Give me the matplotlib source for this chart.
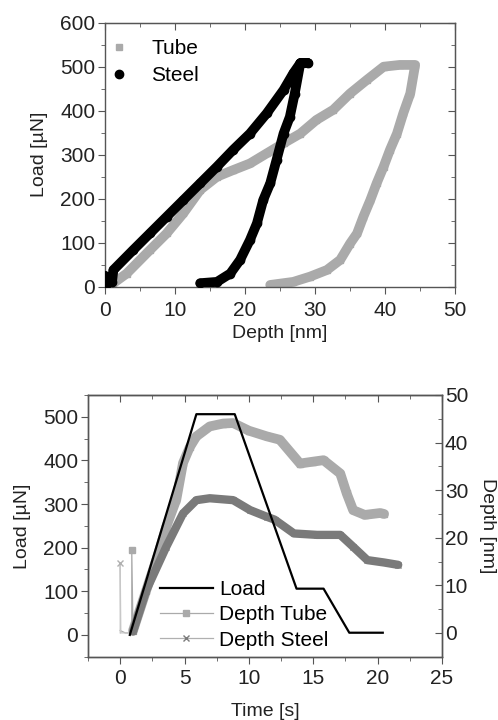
import matplotlib
matplotlib.use("Agg")
import matplotlib.pyplot as plt
from matplotlib.lines import Line2D
from matplotlib.ticker import MultipleLocator

plt.rcParams['font.family'] = ['Liberation Sans', 'DejaVu Sans']

# ---------------- top panel data: load vs depth ----------------
tube_depth = [1.2, 3.1, 6.4, 8.8, 11.2, 13.6, 16.0, 18.3, 20.7, 23.1, 25.5, 27.9, 30.2, 32.6,
              35.0, 37.4, 39.8, 42.1, 44.3,
              43.6, 42.6, 41.7, 40.7, 39.8, 38.8, 37.9, 36.9, 36.0, 35.0, 33.6, 31.7, 29.3,
              26.9, 23.6]
tube_load = [8, 30, 83, 121, 167, 220, 250, 265, 280, 303, 326, 348, 379, 402,
             439, 470, 500, 504, 504,
             439, 394, 348, 311, 273, 235, 197, 159, 121, 98, 61, 38, 23,
             11, 4]

steel_depth = [0.0, 0.2, 1.0, 1.2, 4.0, 6.4, 8.8, 11.2, 13.6, 16.0, 18.3, 20.7, 23.1, 25.5,
               26.9, 27.9, 29.0,
               27.9, 27.1, 26.4, 25.5, 24.5, 23.6, 22.6, 21.7, 20.7, 19.3, 17.9, 16.0, 13.6]
steel_load = [25, 5, 10, 38, 83, 121, 159, 197, 235, 273, 311, 348, 394, 447,
              485, 508, 508,
              508, 439, 386, 348, 288, 235, 197, 144, 106, 61, 30, 11, 8]

# ---------------- bottom panel data: vs time ----------------
load_t = [0.75, 5.92, 8.9, 13.7, 15.8, 17.8, 20.4]
load_v = [0, 506, 506, 106, 106, 5, 5]

tube_spike_t = [0.0, 0.4, 0.9, 0.9, 1.0]
tube_spike_d = [0.5, 0.0, 0.0, 17.4, 0.0]
tube_t = [1.0, 2.02, 3.0, 3.58, 4.36, 4.88, 5.4, 5.92, 6.96, 8.0, 8.78, 10.0, 11.4, 12.4,
          13.97, 15.0, 15.8, 17.1, 17.6, 18.1, 19.0, 20.2, 20.5]
tube_d = [0.5, 8.9, 17.0, 22.3, 28.0, 35.7, 39.0, 41.3, 43.4, 44.0, 44.1, 42.5, 41.3, 40.6,
          35.6, 36.0, 36.3, 33.5, 29.3, 25.8, 24.8, 25.2, 25.0]

steel_spike_t = [0.0, 0.0, 0.05, 0.5, 1.0]
steel_spike_d = [0.0, 14.6, 0.0, 0.0, 0.0]
steel_t = [1.0, 2.02, 3.58, 4.88, 5.92, 6.96, 8.78, 10.1, 11.4, 12.0, 13.5, 15.3, 17.1, 18.1,
           19.2, 20.5, 21.6]
steel_d = [0.3, 8.9, 18.1, 25.1, 27.9, 28.3, 27.9, 25.8, 24.4, 23.8, 20.9, 20.6, 20.6, 18.1,
           15.3, 14.8, 14.3]

TUBE_GRAY = '#aaaaaa'
STEEL_GRAY = '#7a7a7a'
AX_GRAY = '#555555'
TXT = '#222222'
TICK_FS = 15
LABEL_FS = 14

fig = plt.figure(figsize=(4.98, 7.2), dpi=100)

def style_axis(ax):
    for s in ax.spines.values():
        s.set_color(AX_GRAY)
        s.set_linewidth(1.0)
    ax.tick_params(which='both', colors=AX_GRAY, labelcolor=TXT, labelsize=TICK_FS, pad=2)
    ax.tick_params(which='major', length=5)
    ax.tick_params(which='minor', length=3)

def mirror(ax, axis, minor):
    sec = ax.secondary_xaxis('top') if axis == 'x' else ax.secondary_yaxis('right')
    sec.tick_params(which='both', direction='in', colors=AX_GRAY,
                    labeltop=False, labelright=False)
    sec.tick_params(which='major', length=5)
    sec.tick_params(which='minor', length=3)
    if axis == 'x':
        sec.xaxis.set_minor_locator(MultipleLocator(minor))
    else:
        sec.yaxis.set_minor_locator(MultipleLocator(minor))
    for s in sec.spines.values():
        s.set_color(AX_GRAY)
    return sec

# ---------------- top panel ----------------
ax1 = fig.add_axes([0.2108, 0.6018, 0.703, 0.3667])
ax1.plot(tube_depth, tube_load, color=TUBE_GRAY, lw=7, solid_joinstyle='round',
         solid_capstyle='round', zorder=2)
ax1.plot(tube_depth, tube_load, color=TUBE_GRAY, ls='none', marker='s', ms=5, zorder=2)
ax1.plot(steel_depth, steel_load, color='black', lw=7, solid_joinstyle='round',
         solid_capstyle='round', zorder=3)
ax1.plot(steel_depth, steel_load, color='black', ls='none', marker='o', ms=6, zorder=3)
ax1.set_xlim(0, 50)
ax1.set_ylim(0, 600)
ax1.xaxis.set_major_locator(MultipleLocator(10))
ax1.xaxis.set_minor_locator(MultipleLocator(5))
ax1.yaxis.set_major_locator(MultipleLocator(100))
ax1.yaxis.set_minor_locator(MultipleLocator(50))
style_axis(ax1)
ax1.tick_params(which='both', direction='out', top=False, right=False)
ax1.tick_params(axis='x', pad=5)
ax1.set_xlabel('Depth [nm]', fontsize=LABEL_FS, color=TXT, labelpad=4)
ax1.set_ylabel('Load [\u00b5N]', fontsize=LABEL_FS, color=TXT, labelpad=9)
mirror(ax1, 'x', 5)
mirror(ax1, 'y', 50)

h_top = [Line2D([], [], color=TUBE_GRAY, marker='s', ls='none', ms=5, label='Tube'),
         Line2D([], [], color='black', marker='o', ls='none', ms=6, label='Steel')]
ax1.legend(handles=h_top, loc='upper left', frameon=False, fontsize=TICK_FS,
           bbox_to_anchor=(-0.025, 0.985), handletextpad=1.05, borderaxespad=0.2,
           labelspacing=0.4, handlelength=1.0)

# ---------------- bottom panel ----------------
ax2 = fig.add_axes([0.1767, 0.0879, 0.7108, 0.3635])
ax3 = ax2.twinx()
ax2.set_zorder(ax3.get_zorder() + 1)
ax2.patch.set_visible(False)
ax2.plot(load_t, load_v, color='black', lw=1.6, zorder=1)

ax3.plot(tube_spike_t, tube_spike_d, color=TUBE_GRAY, lw=0.9)
ax3.plot([0.9], [17.4], color=TUBE_GRAY, marker='s', ms=4, ls='none')
ax3.plot(tube_t, tube_d, color=TUBE_GRAY, lw=7, solid_joinstyle='round',
         solid_capstyle='round')
ax3.plot(tube_t, tube_d, color=TUBE_GRAY, marker='s', ms=5, ls='none')
ax3.plot(steel_spike_t, steel_spike_d, color='#c8c8c8', lw=0.9)
ax3.plot([0.0], [14.6], color='#b0b0b0', marker='x', ms=4, ls='none')
ax3.plot(steel_t, steel_d, color=STEEL_GRAY, lw=6, solid_joinstyle='round',
         solid_capstyle='round')
ax3.plot(steel_t, steel_d, color=STEEL_GRAY, marker='x', ms=5, ls='none')

ax2.set_xlim(-2.5, 25)
ax2.set_ylim(-50, 550)
ax3.set_ylim(-5, 50)
ax2.set_xticks([0, 5, 10, 15, 20, 25])
ax2.set_yticks([0, 100, 200, 300, 400, 500])
ax3.set_yticks([0, 10, 20, 30, 40, 50])
ax2.xaxis.set_minor_locator(MultipleLocator(2.5))
ax2.yaxis.set_minor_locator(MultipleLocator(50))
ax3.yaxis.set_minor_locator(MultipleLocator(5))
style_axis(ax2)
style_axis(ax3)
ax2.tick_params(which='both', direction='out', top=False, right=False)
ax2.tick_params(axis='x', pad=4)
ax3.tick_params(which='both', direction='in')
mirror(ax2, 'x', 2.5)

ax2.set_xlabel('Time [s]', fontsize=LABEL_FS, color=TXT, labelpad=11)
ax2.set_ylabel('Load [\u00b5N]', fontsize=LABEL_FS, color=TXT, labelpad=9)
ax3.set_ylabel('Depth [nm]', fontsize=LABEL_FS, color=TXT, rotation=270, labelpad=20)

h_bot = [Line2D([], [], color='black', lw=1.6, label='Load'),
         Line2D([], [], color=TUBE_GRAY, lw=0.9, marker='s', ms=4, label='Depth Tube'),
         Line2D([], [], color='#b0b0b0', lw=0.9, marker='x', mec=STEEL_GRAY, ms=5,
                label='Depth Steel')]
ax2.legend(handles=h_bot, loc='lower left', bbox_to_anchor=(0.15, -0.045), frameon=False,
           fontsize=TICK_FS, handlelength=2.55, handletextpad=0.3, labelspacing=0.3)

fig.savefig('out.png', dpi=100)
